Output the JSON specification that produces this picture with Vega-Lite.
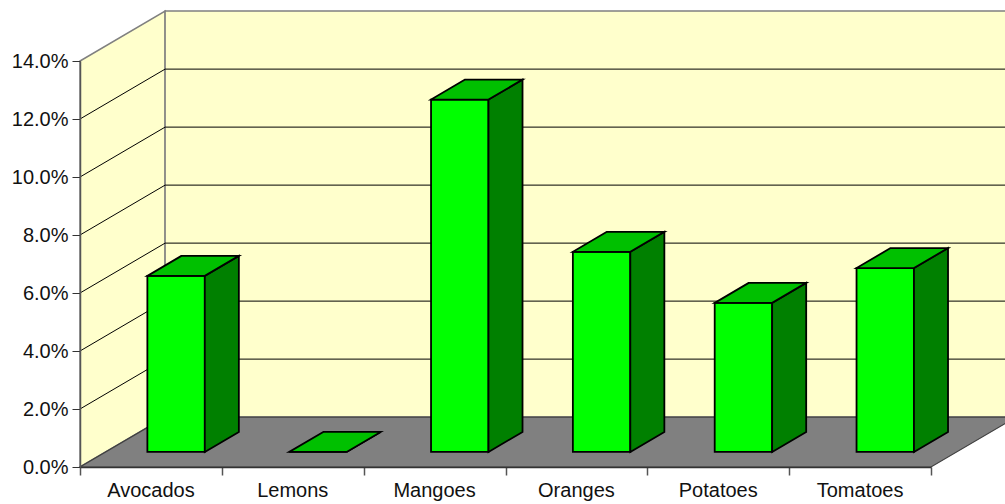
{"$schema":"https://vega.github.io/schema/vega-lite/v6.json","width":851,"height":406,"padding":{"left":80,"top":61,"right":74,"bottom":37},"autosize":{"type":"none"},"background":"white",
"config":{"view":{"stroke":null},"text":{"font":"Liberation Sans"}},
"datasets":{"crops":[{"category":"Avocados","value":0.0607},{"category":"Lemons","value":0},{"category":"Mangoes","value":0.1215},{"category":"Oranges","value":0.069},{"category":"Potatoes","value":0.0514},{"category":"Tomatoes","value":0.0634}],
"ticks":[{"tick":0.02},{"tick":0.04},{"tick":0.06},{"tick":0.08},{"tick":0.1},{"tick":0.12}],
"corners":[{"c":0},{"c":1}]},
"layer":[
{"data":{"name":"corners"},"transform":[{"calculate":"datum.c*0.6","as":"px"},{"calculate":"datum.c*0.0172","as":"py"},{"calculate":"datum.py+0.14","as":"py2"}],
 "mark":{"type":"area","fill":"#FFFFCC","stroke":"#808080","strokeWidth":1.5,"clip":false},
 "encoding":{"x":{"field":"px","type":"quantitative","scale":{"domain":[0,6],"nice":false,"zero":false},
   "axis":{"values":[0,1,2,3,4,5,6],"labels":false,"title":null,"grid":false,"tickSize":8,"tickColor":"#555555","domainColor":"#333333","domainWidth":1.5,"tickWidth":1.5,"zindex":1}},
  "y":{"field":"py","type":"quantitative","scale":{"domain":[0,0.14],"nice":false,"zero":false},
   "axis":{"values":[0,0.02,0.04,0.06,0.08,0.1,0.12,0.14],"format":".1%","title":null,"grid":false,"tickSize":8,"tickColor":"#333333","domainColor":"#555555","domainWidth":1.5,"tickWidth":1,"labelPadding":4,"labelFont":"Liberation Sans","labelFontSize":20,"labelColor":"#111111","zindex":1}},
  "y2":{"field":"py2"}}},
{"data":{"values":[{"wall":"back"}]},"transform":[{"calculate":"0.6","as":"a"},{"calculate":"6.6","as":"b"},{"calculate":"0.0172","as":"c"},{"calculate":"0.1572","as":"d"}],
 "mark":{"type":"rect","fill":"#FFFFCC","stroke":"#808080","strokeWidth":1.5,"clip":false},
 "encoding":{"x":{"field":"a","type":"quantitative","scale":{"domain":[0,6],"nice":false,"zero":false},"title":null},"x2":{"field":"b"},"y":{"field":"c","type":"quantitative","scale":{"domain":[0,0.14],"nice":false,"zero":false},"title":null},"y2":{"field":"d"}}},
{"data":{"name":"corners"},"transform":[{"calculate":"datum.c*0.6","as":"px"},{"calculate":"datum.px+6","as":"px2"},{"calculate":"datum.c*0.0172","as":"py"}],
 "mark":{"type":"area","orient":"horizontal","fill":"#808080","stroke":"#404040","strokeWidth":1.2,"clip":false},
 "encoding":{"y":{"field":"py","type":"quantitative","scale":{"domain":[0,0.14],"nice":false,"zero":false},"title":null},"x":{"field":"px","type":"quantitative","scale":{"domain":[0,6],"nice":false,"zero":false},"title":null},"x2":{"field":"px2"}}},
{"data":{"name":"ticks"},"transform":[{"calculate":"0","as":"a"},{"calculate":"0.6","as":"b"},{"calculate":"datum.tick+0.0172","as":"t2"}],
 "mark":{"type":"rule","stroke":"#000000","strokeWidth":1,"clip":false},
 "encoding":{"x":{"field":"a","type":"quantitative","scale":{"domain":[0,6],"nice":false,"zero":false},"title":null},"x2":{"field":"b"},"y":{"field":"tick","type":"quantitative","scale":{"domain":[0,0.14],"nice":false,"zero":false},"title":null},"y2":{"field":"t2"}}},
{"data":{"name":"ticks"},"transform":[{"calculate":"0.6","as":"a"},{"calculate":"6.6","as":"b"},{"calculate":"datum.tick+0.0172","as":"t2"}],
 "mark":{"type":"rule","stroke":"#000000","strokeWidth":1,"clip":false},
 "encoding":{"x":{"field":"a","type":"quantitative","scale":{"domain":[0,6],"nice":false,"zero":false},"title":null},"x2":{"field":"b"},"y":{"field":"t2","type":"quantitative","scale":{"domain":[0,0.14],"nice":false,"zero":false},"title":null}}},
{"data":{"name":"crops"},"transform":[{"window":[{"op":"row_number","as":"n"}]},{"calculate":"datum.n-1+0.475","as":"x0"},{"calculate":"datum.x0+0.405","as":"x1"},{"calculate":"datum.value+0.0052","as":"top"},{"calculate":"0.0052","as":"base"}],
 "mark":{"type":"rect","fill":"#00FF00","stroke":"black","strokeWidth":1.8,"clip":false},
 "encoding":{"x":{"field":"x0","type":"quantitative","scale":{"domain":[0,6],"nice":false,"zero":false},"title":null},"x2":{"field":"x1"},"y":{"field":"base","type":"quantitative","scale":{"domain":[0,0.14],"nice":false,"zero":false},"title":null},"y2":{"field":"top"}}},
{"data":{"name":"crops"},"transform":[{"window":[{"op":"row_number","as":"n"}]},{"calculate":"[0,1]","as":"c"},{"flatten":["c"]},{"calculate":"datum.n-1+0.475+0.405+datum.c*0.24","as":"sx"},{"calculate":"0.0052+datum.c*0.0069","as":"sb"},{"calculate":"datum.sb+datum.value","as":"st"}],
 "mark":{"type":"area","fill":"#008000","stroke":"black","strokeWidth":1.8,"clip":false},
 "encoding":{"detail":{"field":"category"},"x":{"field":"sx","type":"quantitative","scale":{"domain":[0,6],"nice":false,"zero":false},"title":null},"y":{"field":"sb","type":"quantitative","scale":{"domain":[0,0.14],"nice":false,"zero":false},"title":null},"y2":{"field":"st"}}},
{"data":{"name":"crops"},"transform":[{"window":[{"op":"row_number","as":"n"}]},{"calculate":"[0,1]","as":"c"},{"flatten":["c"]},{"calculate":"datum.n-1+0.475+datum.c*0.24","as":"tx"},{"calculate":"datum.tx+0.405","as":"tx2"},{"calculate":"datum.value+0.0052+datum.c*0.0069","as":"ty"}],
 "mark":{"type":"area","orient":"horizontal","fill":"#00C000","stroke":"black","strokeWidth":1.8,"clip":false},
 "encoding":{"detail":{"field":"category"},"y":{"field":"ty","type":"quantitative","scale":{"domain":[0,0.14],"nice":false,"zero":false},"title":null},"x":{"field":"tx","type":"quantitative","scale":{"domain":[0,6],"nice":false,"zero":false},"title":null},"x2":{"field":"tx2"}}},
{"data":{"name":"crops"},"transform":[{"window":[{"op":"row_number","as":"n"}]},{"calculate":"datum.n-0.5","as":"lx"},{"calculate":"0","as":"ly"}],
 "mark":{"type":"text","font":"Liberation Sans","fontSize":20,"color":"#111111","dy":30,"baseline":"alphabetic","align":"center","clip":false},
 "encoding":{"text":{"field":"category"},"x":{"field":"lx","type":"quantitative","scale":{"domain":[0,6],"nice":false,"zero":false},"title":null},"y":{"field":"ly","type":"quantitative","scale":{"domain":[0,0.14],"nice":false,"zero":false},"title":null}}}
]}
